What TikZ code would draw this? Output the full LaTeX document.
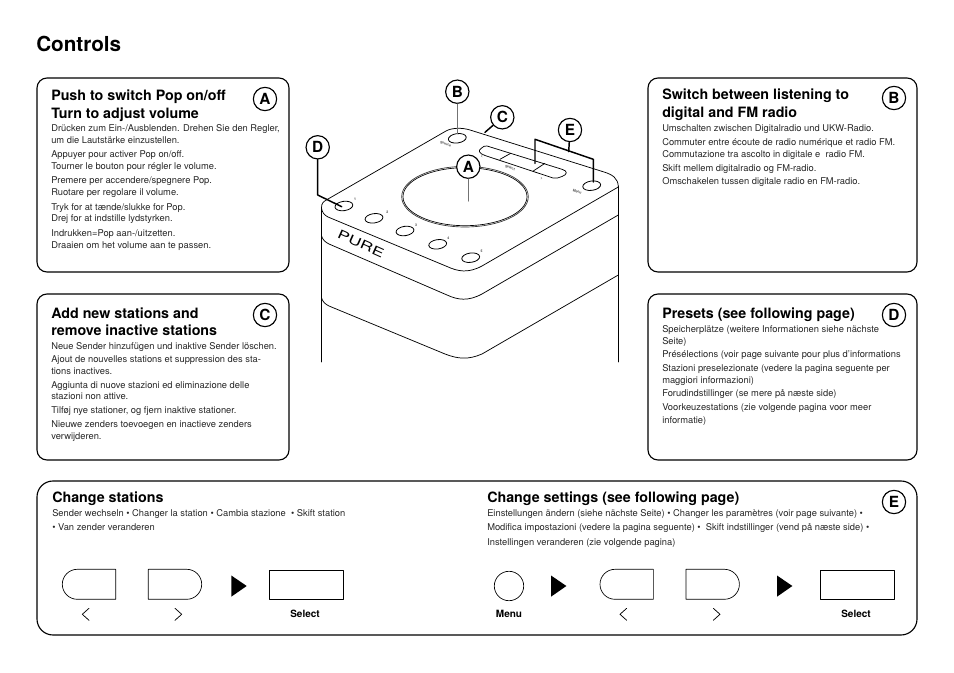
\documentclass[tikz,border=0pt]{standalone}
\usepackage{fontspec}
\setmainfont{TeX Gyre Heros}
\usetikzlibrary{calc,positioning,shapes.geometric}

\begin{document}
\begin{tikzpicture}[
  x=0.75pt,y=-0.75pt,
  line cap=round,line join=round,
  panel/.style={draw=black,line width=0.85pt,rounded corners=7.5pt},
  badge/.style={circle,draw=black,fill=white,line width=0.85pt,minimum size=17.5pt,inner sep=0pt,font=\fontsize{11.5}{12}\bfseries},
  heading/.style={anchor=base west,inner sep=0pt,font=\fontsize{10.7}{12}\bfseries},
  bodyline/.style={anchor=base west,inner sep=0pt,text=black!85,font=\fontsize{7}{8}\selectfont},
  capline/.style={inner sep=0pt,font=\fontsize{7.5}{8}\bfseries},
  keyline/.style={draw=black,line width=0.5pt},
  pushbutton/.style={ellipse,draw=black,fill=white,line width=0.6pt,minimum width=13.5pt,minimum height=7pt,inner sep=0pt,rotate=8},
  tinymark/.style={inner sep=0pt,font=\fontsize{2.6}{3}\bfseries,text=black!70},
  lead/.style={line width=1.1pt,black},
  leadgrey/.style={line width=0.9pt,black!55}
]
  \useasboundingbox (0,0) rectangle (954,673);

  \node[anchor=base west,inner sep=0pt,font=\fontsize{15.5}{18}\bfseries] (title) at (36,52) {Controls};

  % Panels.
  \draw[panel] (37,78) rectangle (289,272);
  \draw[panel] (648,78) rectangle (917,272);
  \draw[panel] (37,294) rectangle (289,460);
  \draw[panel] (648,294) rectangle (917,460);
  \draw[panel,rounded corners=12pt] (37,481) rectangle (917,635);

  \node[badge] (badgeA) at (265,99) {A};
  \node[badge] (badgeB) at (894,98) {B};
  \node[badge] (badgeC) at (265,315) {C};
  \node[badge] (badgeD) at (894,315) {D};
  \node[badge] (badgeE) at (894,502) {E};

  % Headings.
  \foreach \linex/\liney/\linetext in {
    51/101/{Push to switch Pop on/off}, 51/119/{Turn to adjust volume},
    662/100/{Switch between listening to}, 662/118/{digital and FM radio},
    51/319/{Add new stations and}, 51/336/{remove inactive stations},
    662/319/{Presets (see following page)},
    52/503/{Change stations}, 487/503/{Change settings (see following page)}}
    \node[heading] (head\linex-\liney) at (\linex,\liney) {\linetext};

  % Translations.
  \foreach \linex/\liney/\linetext in {
    51/132/{Drücken zum Ein-/Ausblenden. Drehen Sie den Regler,},
    51/144/{um die Lautstärke einzustellen.},
    51/158/{Appuyer pour activer Pop on/off.},
    51/170/{Tourner le bouton pour régler le volume.},
    51/184/{Premere per accendere/spegnere Pop.},
    51/196/{Ruotare per regolare il volume.},
    51/211/{Tryk for at tænde/slukke for Pop.},
    51/222/{Drej for at indstille lydstyrken.},
    51/237/{Indrukken=Pop aan-/uitzetten.},
    51/249/{Draaien om het volume aan te passen.},
    662/132/{Umschalten zwischen Digitalradio und UKW-Radio.},
    662/146/{Commuter entre écoute de radio numérique et radio FM.},
    662/158/{Commutazione tra ascolto in digitale e\ \ radio FM.},
    662/172/{Skift mellem digitalradio og FM-radio.},
    662/185/{Omschakelen tussen digitale radio en FM-radio.},
    51/350/{Neue Sender hinzufügen und inaktive Sender löschen.},
    51/363/{Ajout de nouvelles stations et suppression des sta-},
    51/375/{tions inactives.},
    51/389/{Aggiunta di nuove stazioni ed eliminazione delle},
    51/400/{stazioni non attive.},
    51/414/{Tilføj nye stationer, og fjern inaktive stationer.},
    51/428/{Nieuwe zenders toevoegen en inactieve zenders},
    51/440/{verwijderen.},
    662/333/{Speicherplätze (weitere Informationen siehe nächste},
    662/345/{Seite)},
    662/358/{Présélections (voir page suivante pour plus d'informations},
    662/372/{Stazioni preselezionate (vedere la pagina seguente per},
    662/384/{maggiori informazioni)},
    662/397/{Forudindstillinger (se mere på næste side)},
    662/411/{Voorkeuzestations (zie volgende pagina voor meer},
    662/424/{informatie)},
    52/517/{Sender wechseln • Changer la station • Cambia stazione\ \ • Skift station},
    52/531/{• Van zender veranderen},
    487/517/{Einstellungen ändern (siehe nächste Seite) • Changer les paramètres (voir page suivante) •},
    487/531/{Modifica impostazioni (vedere la pagina seguente) •\ \ Skift indstillinger (vend på næste side) •},
    487/546/{Instellingen veranderen (zie volgende pagina)}}
    \node[bodyline] (line\linex-\liney) at (\linex,\liney) {\linetext};

  % Radio body.
  \draw[line width=0.7pt] (321.5,207) -- (321.5,362);
  \draw[line width=0.7pt] (618.3,186) -- (618.3,362);
  \draw[line width=0.55pt] (321.5,208) .. controls (321.5,203) and (323,202) .. (327,199.6)
    -- (446,131) .. controls (452,127.7) and (462,127.5) .. (470,130)
    -- (604,172) .. controls (612,174.5) and (618.3,178) .. (618.3,187);
  \draw[line width=0.55pt] (321.5,208) .. controls (322,212) and (324,215) .. (328,217)
    -- (447,266.5) .. controls (458,271.5) and (468,273.5) .. (482,266) -- (618.3,187);
  \draw[line width=0.55pt] (321.5,236) .. controls (323,240) and (325,242) .. (329,244)
    -- (447,295) .. controls (458,300) and (468,301.5) .. (482,294) -- (618.3,215);
  \draw[line width=0.55pt] (321.5,298) .. controls (323,302) and (325,304) .. (329,306)
    -- (445,354) .. controls (458,359) and (468,360) .. (482,354) -- (618.3,275);

  % Volume knob and selector strip.
  \draw[line width=0.5pt,black!80] (465,196.7) ellipse[x radius=63.3,y radius=30.3];
  \draw[line width=0.5pt] (465,196.7) ellipse[x radius=62,y radius=29];
  \draw[line width=0.55pt] (487,146) -- (562,169.3) .. controls (568,171) and (567.5,174.5) .. (562,176.5)
    .. controls (559,178) and (556,178.5) .. (553,178) -- (485,155.5)
    .. controls (479,153.5) and (478,150.5) .. (481,148.5) .. controls (483,146.5) and (485,145.5) .. (487,146);
  \draw[line width=0.55pt] (500,159.3) -- (510.7,153.3);
  \draw[line width=0.55pt] (533.3,171) -- (545,163.3);

  % Buttons on the top face.
  \node[pushbutton] (source) at (457.3,138.3) {};
  \node[pushbutton] (menubtn) at (591.7,185.7) {};
  \foreach \presetnum/\presetx/\presety in {1/343.9/206,2/374/218.3,3/405/231,4/437.7/244.3,5/470.7/257.7}
    \node[pushbutton] (preset\presetnum) at (\presetx,\presety) {};

  \foreach \presetnum/\presetx/\presety in {1/355/199.3,2/387.3/212.7,3/416/225,4/448.3/238.3,5/481.7/251}
    \node[tinymark] (presetmark\presetnum) at (\presetx,\presety) {\presetnum};
  \node[tinymark,rotate=-20] (sourcemark) at (445.7,144) {Source};
  \node[tinymark,rotate=-20] (selectmark) at (510,167.7) {Select};
  \node[tinymark,rotate=-20] (menumark) at (577.3,191.7) {Menu};
  \node[tinymark] (prevmark) at (482,156.7) {<};
  \node[tinymark] (nextmark) at (541.7,178.3) {>};

  \node[rotate=-24,xscale=1.45,inner sep=0pt,font=\fontsize{9.2}{10}\selectfont] (logo) at (361,244) {PURE};

  % Callouts.
  \coordinate (tipA) at (468.3,201);
  \coordinate (tipB) at (457.3,133.5);
  \coordinate (tipC) at (485,132.3);
  \coordinate (elbowD) at (317.7,195);
  \coordinate (tipD) at (341.7,206.7);
  \coordinate (stemE) at (568.7,151.7);
  \coordinate (tipEl) at (535,163.3);
  \coordinate (elbowEl) at (535,139.3);
  \coordinate (elbowEr) at (593.3,159.3);
  \coordinate (tipEr) at (593.3,182);

  \node[badge] (calloutA) at (468.3,166.7) {A};
  \node[badge] (calloutB) at (457.3,91.7) {B};
  \node[badge] (calloutC) at (502.3,117.3) {C};
  \node[badge] (calloutD) at (317.7,147.3) {D};
  \node[badge] (calloutE) at (570,130) {E};

  \draw[leadgrey] (calloutA) -- (tipA);
  \draw[leadgrey] (calloutB) -- (tipB);
  \draw[lead] (calloutC) -- (tipC);
  \draw[lead] (calloutD) -- (elbowD) -- (tipD);
  \draw[lead] (calloutE) -- (stemE);
  \draw[lead] (tipEl) -- (elbowEl) -- (elbowEr) -- (tipEr);

  % Key sequences.
  \foreach \keyx in {62.3,600}
    \draw[keyline] ($(\keyx,569.3)+(53.4,0)$) -- ($(\keyx,569.3)+(15,0)$)
      arc[start angle=90,end angle=270,x radius=15,y radius=-15] -- ($(\keyx,599.3)+(53.4,0)$) -- cycle;
  \foreach \keyx in {148.3,686}
    \draw[keyline] (\keyx,569.3) -- ($(\keyx,569.3)+(38.4,0)$)
      arc[start angle=90,end angle=-90,x radius=15,y radius=-15] -- (\keyx,599.3) -- cycle;
  \foreach \keyx in {269,820}
    \draw[keyline] (\keyx,570.3) rectangle ($(\keyx,599.3)+(74.3,0)$);
  \draw[keyline] (509,586) circle[radius=14.7];

  \foreach \keyx in {231.3,551,777}
    \fill ($(\keyx,575.5)$) -- ($(\keyx,596.7)$) -- ($(\keyx,586)+(15.4,0)$) -- cycle;

  \foreach \keyx in {89,626.7}
    \draw[line width=0.55pt] (\keyx,608.3) -- ($(\keyx,614.3)+(-6.7,0)$) -- (\keyx,620.3);
  \foreach \keyx in {175,713.3}
    \draw[line width=0.55pt] (\keyx,608.3) -- ($(\keyx,614.3)+(6.7,0)$) -- (\keyx,620.3);

  \node[capline] (selectL) at (305,614) {Select};
  \node[capline] (menulabel) at (509,614) {Menu};
  \node[capline] (selectR) at (856,614) {Select};
\end{tikzpicture}
\end{document}
